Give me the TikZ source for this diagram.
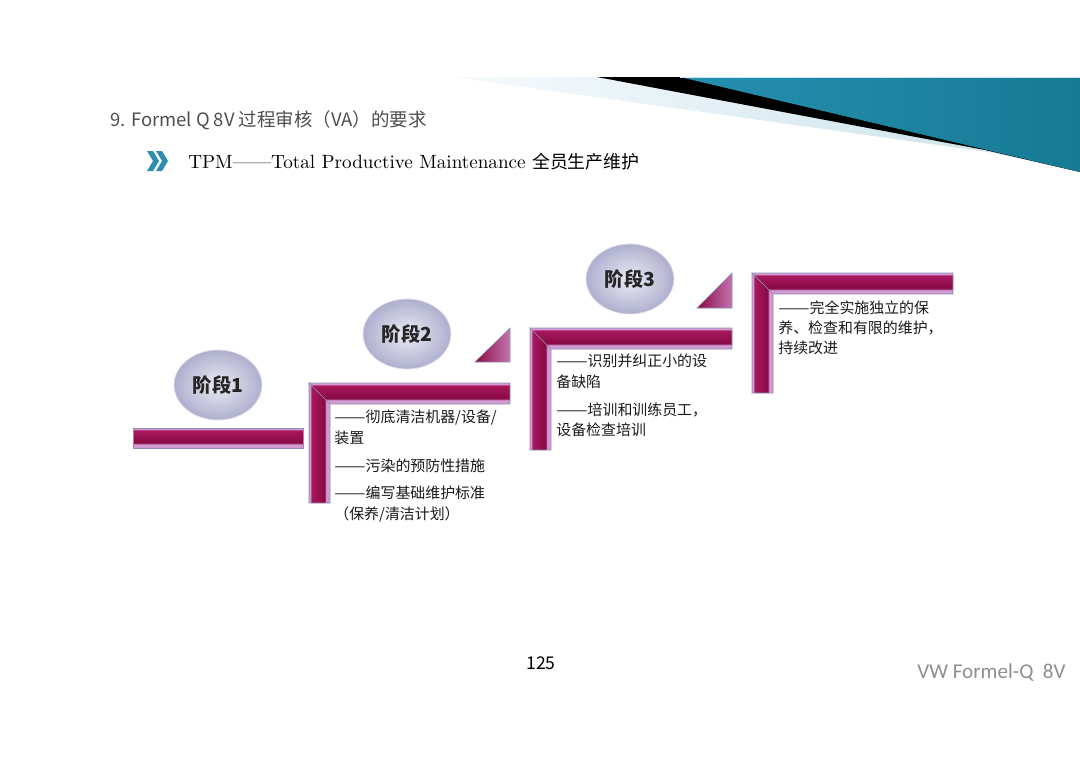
\documentclass[tikz,border=0pt]{standalone}
\usepackage{fontspec}
\newfontfamily\cjk{Noto Sans CJK SC}
\newfontfamily\footfont{Carlito}
\usetikzlibrary{positioning,shapes.geometric,calc}
\definecolor{crimson}{HTML}{A8175C}
\definecolor{crimsondk}{HTML}{880B45}
\definecolor{bevel}{HTML}{D29AD2}
\definecolor{rim}{HTML}{8C8FB2}
\definecolor{lilac}{HTML}{C6C7E1}
\definecolor{lilacdk}{HTML}{AEAFCE}
\definecolor{bannerteal}{HTML}{2690B0}
\definecolor{sky}{HTML}{52B7DB}
\definecolor{deepsea}{HTML}{167A94}
\definecolor{mist}{HTML}{C8E1EB}
\definecolor{chevblue}{HTML}{2C8DB1}
\definecolor{titlegray}{HTML}{4E4E4E}
\definecolor{footgray}{HTML}{8E8E8E}
% bevelled bar shadings
\pgfdeclareverticalshading{hbarshade}{100bp}{color(0bp)=(bevel); color(25bp)=(bevel);
  color(34bp)=(bevel); color(38bp)=(crimsondk); color(69bp)=(crimson);
  color(72bp)=(bevel); color(75bp)=(bevel); color(100bp)=(bevel)}
\pgfdeclarehorizontalshading{vbarshade}{100bp}{color(0bp)=(bevel); color(25bp)=(bevel);
  color(28bp)=(bevel); color(31bp)=(crimson); color(62bp)=(crimsondk);
  color(66bp)=(bevel); color(75bp)=(bevel); color(100bp)=(bevel)}
\tikzset{
  hbar/.style={shading=hbarshade, draw=rim, line width=0.3pt},
  vbar/.style={shading=vbarshade, draw=rim, line width=0.3pt},
  cornertri/.style={left color=crimsondk, right color=bevel!70!crimson,
    draw=rim, line width=0.3pt},
  stageball/.style={ellipse, minimum width=1.52cm, minimum height=1.4cm,
    inner color=lilac!35!white, outer color=lilacdk, draw=lilac!60!white,
    font=\cjk\bfseries\fontsize{11pt}{13pt}\selectfont, text=black!85},
  stagetext/.style={anchor=north west, inner sep=0pt, align=left,
    font=\cjk\fontsize{8.5pt}{11.6pt}\selectfont, text=black!90},
}
\newcommand\dd{\scalebox{1.25}[1]{——}}
% L shaped step: name, corner x, corner y, right end, bottom end
\newcommand\stepL[5]{%
  \coordinate (#1) at (#2,#3);
  \shadedraw[vbar] (#2,#3) -- (#2+21,#3+21) -- (#2+21,#5) -- (#2,#5) -- cycle;
  \shadedraw[hbar] (#2,#3) -- (#4,#3) -- (#4,#3+21) -- (#2+21,#3+21) -- cycle;
}

\begin{document}
\begin{tikzpicture}[x=0.02cm, y=-0.02cm]
  \useasboundingbox (0,0) rectangle (1080,764);

  % banner
  \shade[left color=mist!15!white, right color=mist] (452,77) -- (1080,77) -- (1080,172) -- (995,153) -- cycle;
  \fill[black] (597,77) -- (1080,77) -- (1080,172) -- (985,150) -- cycle;
  \shade[left color=bannerteal, middle color=sky, right color=deepsea] (680,77) -- (1080,77) -- (1080,172) -- cycle;
  \draw[sky!35!white, line width=0.6pt] (680,77.5) -- (1080,77.5);

  % heading
  \node[anchor=west, inner sep=0pt, text=titlegray, font=\cjk\fontsize{10.5pt}{12pt}\selectfont] (title) at (110,120) {9. Formel Q 8V 过程审核（VA）的要求};
  \foreach \dx in {0,9} {
    \fill[chevblue] (147+\dx,151) -- (153+\dx,151) -- (159+\dx,161) -- (153+\dx,171) -- (147+\dx,171) -- (153+\dx,161) -- cycle;
  }
  \node[anchor=west, inner sep=0pt, font=\fontsize{10.9pt}{12pt}\selectfont] (subtitle) at (188,162) {TPM——Total Productive Maintenance {\cjk\fontsize{10.2pt}{12pt}\selectfont 全员生产维护}};

  % steps
  \shadedraw[hbar] (133,428) rectangle (303,448);
  \stepL{s2}{309}{383}{510}{503}
  \stepL{s3}{530}{328}{732}{450}
  \stepL{s4}{752}{273}{953}{393}
  \shadedraw[cornertri] (475,362) -- (510,362) -- (510,328) -- cycle;
  \shadedraw[cornertri] (697,308) -- (732,308) -- (732,273) -- cycle;

  \node[stageball] (stage1) at (218,385) {阶段1};
  \node[stageball] (stage2) at (407,334) {阶段2};
  \node[stageball] (stage3) at (630,279) {阶段3};

  % texts
  \node[stagetext] (t2) at ($(s2)+(25,27)$) {\dd 彻底清洁机器/设备/\\装置\\[4.2pt]\dd 污染的预防性措施\\[4.2pt]\dd 编写基础维护标准\\（保养/清洁计划）};
  \node[stagetext] (t3) at ($(s3)+(26,26)$) {\dd 识别并纠正小的设\\备缺陷\\[4.4pt]\dd 培训和训练员工，\\设备检查培训};
  \node[stagetext] (t4) at ($(s4)+(26,27)$) {\dd 完全实施独立的保\\养、检查和有限的维护，\\持续改进};

  % footer
  \node[font=\cjk\fontsize{10pt}{11pt}\selectfont] (page) at (541,663) {125};
  \node[anchor=east, inner sep=0pt, text=footgray, font=\footfont\fontsize{12pt}{13pt}\selectfont] (brand) at (1066,673) {VW Formel-Q\ \ 8V};
\end{tikzpicture}
\end{document}
